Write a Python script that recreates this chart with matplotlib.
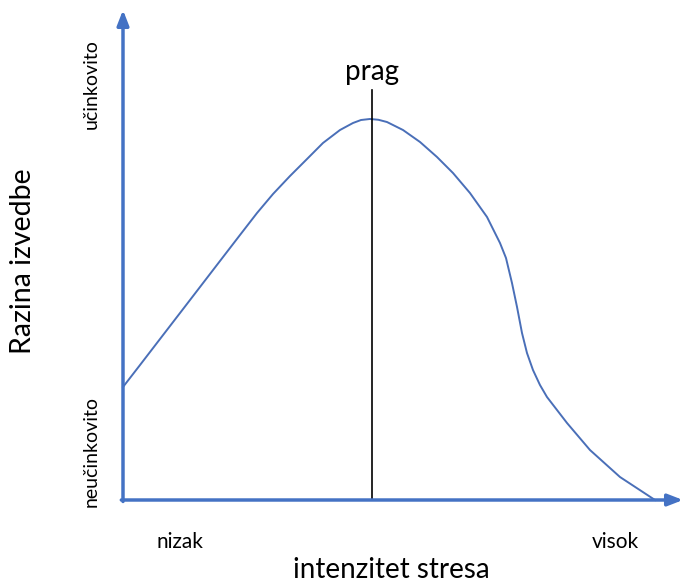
import numpy as np
import matplotlib
matplotlib.use("Agg")
import matplotlib.pyplot as plt

plt.rcParams['font.family'] = ['Lato', 'DejaVu Sans']

# krivulja izvedbe (intenzitet stresa -> razina izvedbe)
stres = [0.0, 0.304, 0.661, 1.018, 1.375, 1.732, 2.089, 2.393, 2.679, 2.982,
         3.286, 3.571, 3.875, 4.107, 4.25, 4.411, 4.56, 4.714, 5.0, 5.304,
         5.607, 5.893, 6.196, 6.5, 6.732, 6.839, 6.946, 7.036, 7.125, 7.214,
         7.321, 7.446, 7.571, 7.929, 8.339, 8.875, 9.5]
izvedba = [2.306, 2.755, 3.286, 3.816, 4.347, 4.878, 5.408, 5.857, 6.245, 6.612,
           6.959, 7.286, 7.551, 7.694, 7.755, 7.776, 7.76, 7.714, 7.551, 7.306,
           7.0, 6.673, 6.265, 5.776, 5.245, 4.939, 4.429, 3.939, 3.408, 3.0,
           2.653, 2.347, 2.102, 1.571, 1.02, 0.469, 0.0]

prag_x = 4.45
prag_vrh = 8.37
x_oznake = ['nizak', 'visok']
x_pozicije = [1.02, 8.80]
y_oznake = ['neučinkovito', 'učinkovito']
y_pozicije = [0.98, 8.49]

plava = '#4472C4'

fig = plt.figure(figsize=(6.83, 5.83), dpi=100)
ax = fig.add_axes([0, 0, 1, 1])
ax.set_xlim(-123 / 56, 10)
ax.set_ylim(-83 / 49, 500 / 49)
ax.axis('off')

# osi sa strelicama
ax.annotate('', xy=(0, 10), xytext=(0, -0.03),
            arrowprops=dict(arrowstyle='-|>,head_length=0.9,head_width=0.35',
                            color=plava, lw=2.5, shrinkA=0, shrinkB=0))
ax.annotate('', xy=(10, 0), xytext=(-0.03, 0), annotation_clip=False,
            arrowprops=dict(arrowstyle='-|>,head_length=0.9,head_width=0.35',
                            color=plava, lw=2.5, shrinkA=0, shrinkB=0))

# krivulja
ax.plot(stres, izvedba, color='#4A6FB8', lw=1.4, solid_joinstyle='round')

# prag
ax.plot([prag_x, prag_x], [0, prag_vrh], color='black', lw=1.2)
ax.text(prag_x, 8.73, 'prag', ha='center', va='center', fontsize=20)

for t, x in zip(x_oznake, x_pozicije):
    ax.text(x, -0.857, t, ha='center', va='center', fontsize=15)
for t, y in zip(y_oznake, y_pozicije):
    ax.text(-0.57, y, t, ha='center', va='center', fontsize=14, rotation=90)

ax.text(4.80, -1.43, 'intenzitet stresa', ha='center', va='center', fontsize=20)
ax.text(-1.786, 4.88, 'Razina izvedbe', ha='center', va='center', fontsize=20.5,
        rotation=90)

fig.savefig('out.png', dpi=100)
